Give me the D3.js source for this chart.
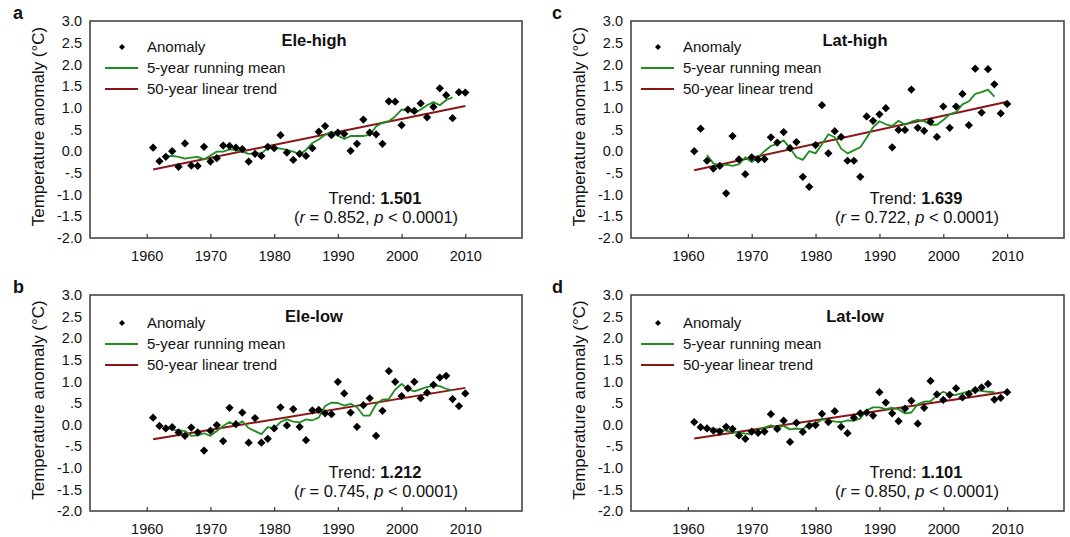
<!DOCTYPE html>
<html>
<head>
<meta charset="utf-8">
<script src="https://cdn.jsdelivr.net/npm/d3@7"></script>
<style>
  body { margin: 0; background: #fff; }
  text { font-family: "Liberation Sans", Arial, sans-serif; fill: #111; }
</style>
</head>
<body>
<svg id="chart" width="1070" height="537"></svg>
<script>
// years of the annual anomalies
var years = [1961,1962,1963,1964,1965,1966,1967,1968,1969,1970,
             1971,1972,1973,1974,1975,1976,1977,1978,1979,1980,
             1981,1982,1983,1984,1985,1986,1987,1988,1989,1990,
             1991,1992,1993,1994,1995,1996,1997,1998,1999,2000,
             2001,2002,2003,2004,2005,2006,2007,2008,2009,2010];
// years covered by the 5-year running mean
var meanYears = [1963,1964,1965,1966,1967,1968,1969,1970,
                 1971,1972,1973,1974,1975,1976,1977,1978,1979,1980,
                 1981,1982,1983,1984,1985,1986,1987,1988,1989,1990,
                 1991,1992,1993,1994,1995,1996,1997,1998,1999,2000,
                 2001,2002,2003,2004,2005,2006,2007,2008];
var trendYears = [1961, 2010];

var xTicks = [1960, 1970, 1980, 1990, 2000, 2010];
var yTicks = [-2, -1.5, -1, -0.5, 0, 0.5, 1, 1.5, 2, 2.5, 3];
var yTickLabels = ['-2.0', '-1.5', '-1.0', '-.5', '0.0', '.5', '1.0', '1.5', '2.0', '2.5', '3.0'];

// a: Ele-high
var eleHigh = [0.08,-0.23,-0.13,0.00,-0.36,0.18,-0.33,-0.34,0.10,-0.24,
               -0.16,0.13,0.12,0.08,0.05,-0.24,-0.06,-0.11,0.10,0.07,
               0.37,-0.03,-0.20,-0.06,-0.11,0.07,0.45,0.58,0.37,0.43,
               0.40,0.01,0.17,0.73,0.43,0.39,0.17,1.15,1.14,0.60,
               0.96,0.93,1.10,0.78,1.02,1.45,1.29,0.76,1.36,1.35];
var eleHighMean = [-0.13,-0.11,-0.13,-0.17,-0.15,-0.13,-0.19,-0.10,
                   -0.01,-0.01,0.04,0.03,-0.01,-0.06,-0.05,-0.05,0.07,0.08,
                   0.06,0.03,-0.01,-0.07,0.03,0.19,0.27,0.38,0.45,0.36,
                   0.28,0.35,0.35,0.35,0.38,0.57,0.66,0.69,0.80,0.96,
                   0.95,0.87,0.96,1.06,1.13,1.06,1.18,1.24];
var eleHighTrend = [-0.42, 1.04];

// c: Lat-high
var latHigh = [0.00,0.52,-0.22,-0.40,-0.34,-0.97,0.35,-0.19,-0.53,-0.14,
               -0.19,-0.18,0.32,0.20,0.44,0.07,0.21,-0.59,-0.82,0.14,
               1.06,-0.05,0.46,0.33,-0.22,-0.22,-0.59,0.80,0.70,0.85,
               0.99,0.09,0.49,0.49,1.42,0.54,0.47,0.68,0.33,1.03,
               0.54,1.03,1.32,0.60,1.90,0.89,1.89,1.54,0.87,1.09];
var latHighMean = [-0.09,-0.28,-0.32,-0.31,-0.34,-0.30,-0.14,-0.25,
                   -0.14,0.00,0.12,0.17,0.25,0.07,-0.14,-0.20,0.00,-0.05,
                   0.16,0.39,0.32,0.06,-0.05,0.02,0.09,0.31,0.55,0.69,
                   0.62,0.58,0.70,0.61,0.68,0.72,0.69,0.61,0.61,0.72,
                   0.85,0.90,1.08,1.15,1.32,1.36,1.42,1.26];
var latHighTrend = [-0.44, 1.14];

// b: Ele-low
var eleLow = [0.16,-0.03,-0.09,-0.06,-0.18,-0.26,-0.07,-0.18,-0.60,-0.14,
              -0.01,-0.38,0.39,0.01,0.28,-0.42,0.15,-0.42,-0.33,-0.09,
              0.40,-0.02,0.36,-0.05,-0.36,0.33,0.34,0.26,0.24,0.99,
              0.72,0.28,-0.05,0.45,0.61,-0.26,0.32,1.24,0.99,0.66,
              0.84,0.99,0.61,0.74,0.92,1.09,1.13,0.59,0.43,0.72];
var eleLowMean = [-0.04,-0.12,-0.13,-0.15,-0.26,-0.25,-0.20,-0.26,
                  -0.15,-0.03,0.06,-0.02,0.08,-0.08,-0.15,-0.22,-0.06,-0.09,
                  0.06,0.12,0.07,0.05,0.12,0.10,0.16,0.43,0.51,0.50,
                  0.44,0.48,0.40,0.21,0.21,0.47,0.58,0.59,0.81,0.94,
                  0.82,0.77,0.82,0.87,0.90,0.89,0.83,0.79];
var eleLowTrend = [-0.34, 0.85];

// d: Lat-low
var latLow = [0.06,-0.06,-0.09,-0.14,-0.16,-0.05,-0.10,-0.25,-0.33,-0.16,
              -0.19,-0.16,0.24,-0.10,0.09,-0.40,0.04,-0.17,-0.03,-0.01,
              0.25,0.06,0.31,-0.05,-0.20,0.16,0.26,0.28,0.21,0.75,
              0.51,0.26,0.08,0.37,0.55,0.02,0.39,1.01,0.70,0.57,
              0.69,0.84,0.63,0.71,0.80,0.86,0.94,0.58,0.62,0.75];
var latLowMean = [-0.08,-0.10,-0.11,-0.14,-0.18,-0.18,-0.21,-0.22,
                  -0.12,-0.07,-0.02,-0.07,-0.03,-0.11,-0.09,-0.11,0.02,0.02,
                  0.12,0.11,0.07,0.06,0.10,0.09,0.14,0.33,0.40,0.40,
                  0.36,0.39,0.35,0.26,0.28,0.47,0.53,0.54,0.67,0.76,
                  0.69,0.69,0.73,0.77,0.79,0.78,0.76,0.75];
var latLowTrend = [-0.32, 0.76];

var panelLetters = ['a', 'c', 'b', 'd'];
var panelNames = ['Ele-high', 'Lat-high', 'Ele-low', 'Lat-low'];
var trendValues = ['1.501', '1.639', '1.212', '1.101'];
var rValues = ['0.852', '0.722', '0.745', '0.850'];
var legendLabels = ['Anomaly', '5-year running mean', '50-year linear trend'];

var panelData = [
  {points: eleHigh, mean: eleHighMean, trend: eleHighTrend},
  {points: latHigh, mean: latHighMean, trend: latHighTrend},
  {points: eleLow, mean: eleLowMean, trend: eleLowTrend},
  {points: latLow, mean: latLowMean, trend: latLowTrend}
];

// frames of the four panels
var boxes = [
  {l: 90, t: 21, w: 432, h: 217, legendX: 15, legendY: 26},
  {l: 631, t: 21, w: 433, h: 217, legendX: 10, legendY: 26},
  {l: 90, t: 295, w: 432, h: 216, legendX: 15, legendY: 28},
  {l: 631, t: 295, w: 433, h: 216, legendX: 10, legendY: 28}
];

var green = '#1f8c1f';
var red = '#8c1414';

var svg = d3.select('#chart');

panelData.forEach(function(pd, i) {
  var b = boxes[i];
  var g = svg.append('g').attr('transform', 'translate(' + [b.l, b.t] + ')');

  var x = d3.scaleLinear().domain([1951.1, 2018.9]).range([0, b.w]);
  var y = d3.scaleLinear().domain([-2, 3]).range([b.h, 0]);

  // frame
  g.append('rect')
    .attr('width', b.w).attr('height', b.h)
    .attr('fill', 'none').attr('stroke', '#3a3a3a').attr('stroke-width', 1.5);

  // x axis: inside ticks, labels below the frame
  var xAxis = g.append('g').attr('transform', 'translate(0,' + b.h + ')')
    .call(d3.axisBottom(x).tickValues(xTicks).tickSize(-4).tickPadding(13).tickFormat(d3.format('d')));
  xAxis.select('.domain').remove();
  xAxis.selectAll('line').attr('stroke', '#333').attr('stroke-width', 1.2);
  xAxis.selectAll('text').attr('font-size', 14.5).attr('fill', '#111')
    .style('font-family', '"Liberation Sans", Arial, sans-serif');

  // y axis: labels only
  var yAxis = g.append('g')
    .call(d3.axisLeft(y).tickValues(yTicks).tickSize(0).tickPadding(8)
      .tickFormat(function(d, k) { return yTickLabels[k]; }));
  yAxis.select('.domain').remove();
  yAxis.selectAll('text').attr('font-size', 14.5).attr('fill', '#111')
    .style('font-family', '"Liberation Sans", Arial, sans-serif');

  // y label
  g.append('text')
    .attr('transform', 'translate(' + [-46, b.h / 2 - 3] + ') rotate(-90)')
    .attr('text-anchor', 'middle')
    .attr('font-size', 17)
    .text('Temperature anomaly (°C)');

  // panel letter
  g.append('text')
    .attr('x', (i % 2 === 0 ? -77 : -79)).attr('y', -2)
    .attr('font-size', 18).attr('font-weight', 'bold')
    .text(panelLetters[i]);

  // trend line
  var trendPts = trendYears.map(function(yr, k) { return [yr, pd.trend[k]]; });
  g.append('path')
    .datum(trendPts)
    .attr('fill', 'none').attr('stroke', red).attr('stroke-width', 2)
    .attr('d', d3.line().x(function(d) { return x(d[0]); }).y(function(d) { return y(d[1]); }));

  // running mean
  var meanPts = meanYears.map(function(yr, k) { return [yr, pd.mean[k]]; });
  g.append('path')
    .datum(meanPts)
    .attr('fill', 'none').attr('stroke', green).attr('stroke-width', 1.8)
    .attr('stroke-linejoin', 'round')
    .attr('d', d3.line().x(function(d) { return x(d[0]); }).y(function(d) { return y(d[1]); }));

  // anomaly points (diamonds)
  var sym = d3.symbol().type(d3.symbolSquare).size(34);
  g.selectAll('.pt')
    .data(years.map(function(yr, k) { return [yr, pd.points[k]]; }))
    .enter().append('path')
    .attr('class', 'pt')
    .attr('d', sym)
    .attr('fill', '#000')
    .attr('transform', function(d) {
      return 'translate(' + [x(d[0]), y(d[1])] + ') rotate(45)';
    });

  // legend
  var lg = g.append('g').attr('transform', 'translate(' + [b.legendX, b.legendY] + ')');
  legendLabels.forEach(function(lab, k) {
    var ly = k * 21;
    if (k === 0) {
      lg.append('path')
        .attr('d', d3.symbol().type(d3.symbolSquare).size(18))
        .attr('fill', '#000')
        .attr('transform', 'translate(' + [17, ly] + ') rotate(45)');
    } else {
      lg.append('line')
        .attr('x1', 0).attr('x2', 33).attr('y1', ly).attr('y2', ly)
        .attr('stroke', k === 1 ? green : red).attr('stroke-width', 2);
    }
    lg.append('text')
      .attr('x', 42).attr('y', ly).attr('dy', '0.35em')
      .attr('font-size', 15)
      .text(lab);
  });

  // panel title
  g.append('text')
    .attr('x', 224).attr('y', (i < 2 ? 25 : 27))
    .attr('text-anchor', 'middle')
    .attr('font-size', 16.5).attr('font-weight', 'bold')
    .text(panelNames[i]);

  // trend annotation
  var t1 = g.append('text')
    .attr('x', 285).attr('y', 183)
    .attr('text-anchor', 'middle')
    .attr('font-size', 16.5);
  t1.append('tspan').text('Trend: ');
  t1.append('tspan').attr('font-weight', 'bold').text(trendValues[i]);

  var t2 = g.append('text')
    .attr('x', 286).attr('y', 202)
    .attr('text-anchor', 'middle')
    .attr('font-size', 16.5);
  t2.append('tspan').text('(');
  t2.append('tspan').attr('font-style', 'italic').text('r');
  t2.append('tspan').text(' = ' + rValues[i] + ', ');
  t2.append('tspan').attr('font-style', 'italic').text('p');
  t2.append('tspan').text(' < 0.0001)');
});
</script>
</body>
</html>
